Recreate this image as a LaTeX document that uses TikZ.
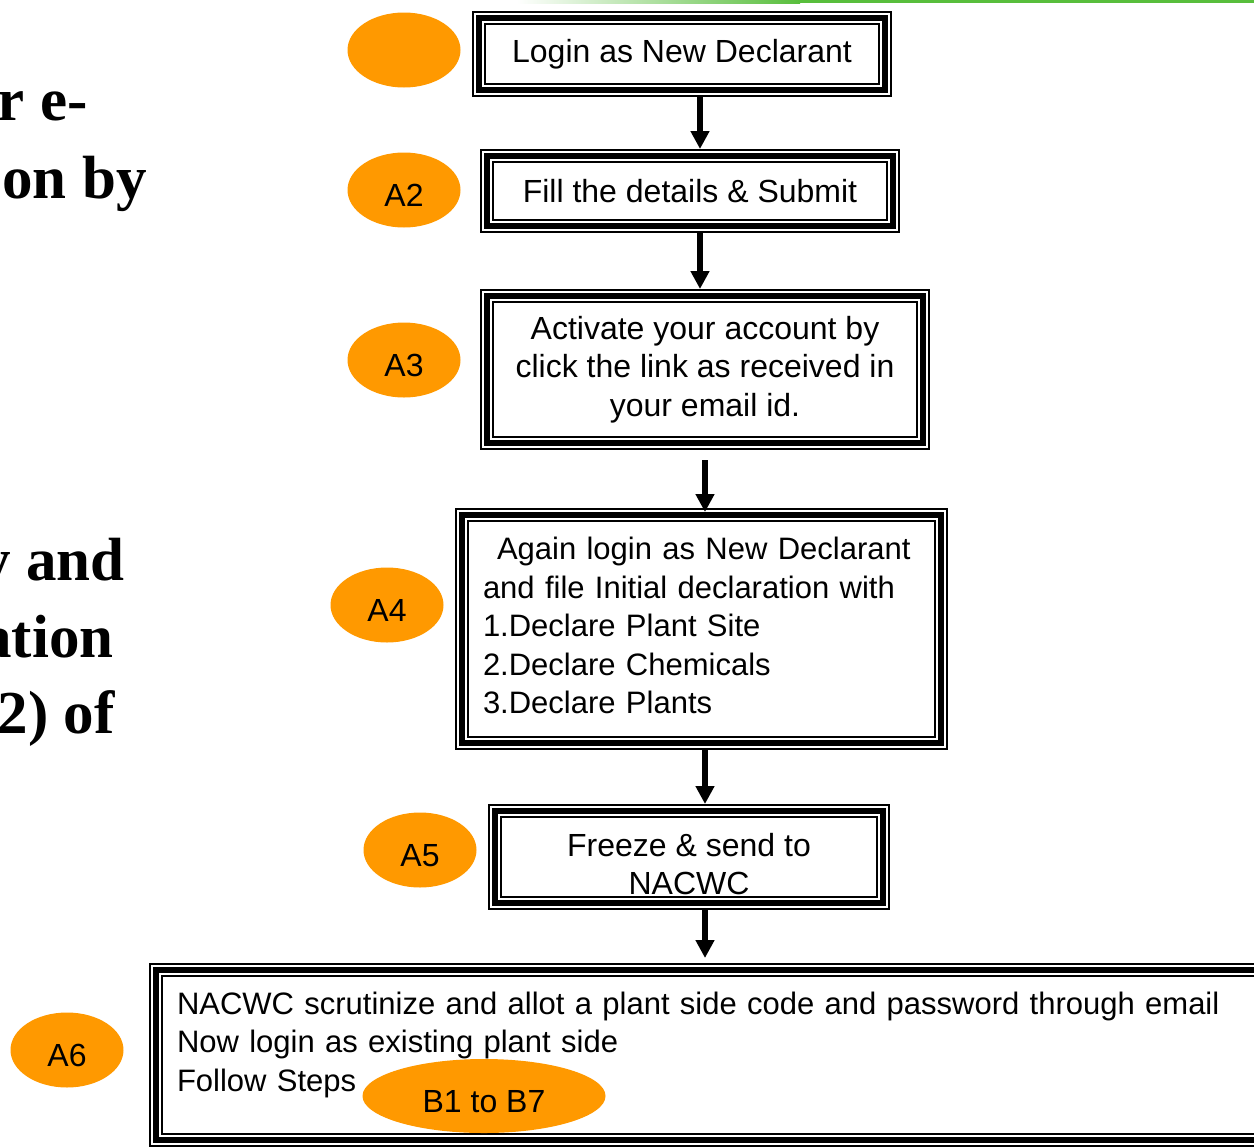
\documentclass[tikz,border=0pt]{standalone}
\usepackage{fontspec}
\setmainfont{Liberation Sans}
\newfontfamily\headfont{Liberation Serif}
\usetikzlibrary{shapes.geometric, arrows.meta}
\definecolor{tagorange}{RGB}{255,153,0}
\definecolor{bargreen}{RGB}{88,190,60}

\begin{document}
\begin{tikzpicture}[x=0.5pt, y=-0.5pt, >={Triangle[width=9pt,length=9pt]},
  stepbox/.style={draw, double, line width=1pt, double distance=5pt,
    postaction={draw, line width=3pt}, fill=white, inner sep=0pt, outer sep=0pt,
    font=\fontsize{16pt}{19.25pt}\selectfont},
  listbox/.style={stepbox, align=left, inner xsep=10.5pt,
    font=\fontsize{15.5pt}{19.25pt}\selectfont},
  tag/.style={ellipse, fill=tagorange, minimum width=56.5pt, minimum height=37.5pt,
    inner sep=0pt, text height=16.5pt, text depth=0pt,
    font=\fontsize{16pt}{19.25pt}\selectfont},
  flow/.style={->, line width=3pt, shorten <=3.5pt, shorten >=3.5pt},
  headtext/.style={anchor=base east, inner sep=0pt,
    font=\headfont\bfseries\fontsize{30.5pt}{38.5pt}\selectfont}]
\useasboundingbox (0,0) rectangle (1254,1147);
\clip (0,0) rectangle (1254,1147);

% green bar at the top
\shade[left color=white, right color=bargreen] (517,0) rectangle (800,3);
\fill[bargreen] (800,0) rectangle (1254,3);

% title, cut at the left edge
\node[headtext] (headA) at (88,120) {r e-};
\node[headtext] (headB) at (147,198) {on by};
\node[headtext] (headC) at (125,580) {y and};
\node[headtext] (headD) at (114,657) {ation};
\node[headtext] (headE) at (115,733) {2) of};

% steps
\node[stepbox, minimum width=203pt, minimum height=36pt] (login) at (682,54) {Login as New Declarant};
\node[stepbox, minimum width=203pt, minimum height=35pt] (details) at (690,191) {Fill the details \& Submit};
\node[stepbox, minimum width=218pt, minimum height=73.5pt, align=center] (activate) at (705,369.5)
  {Activate your account by\\click the link as received in\\your email id.};
\node[listbox, minimum height=114pt, text width=218.5pt] (declare) at (701.5,629)
  {\hspace*{7pt}Again login as New Declarant\\and file Initial declaration with\\1.Declare Plant Site\\2.Declare Chemicals\\3.Declare Plants\rule[-3.5pt]{0pt}{0pt}};
\node[stepbox, minimum width=194pt, minimum height=46pt, align=center] (freeze) at (689,857)
  {\rule{0pt}{18.5pt}Freeze \& send to\\NACWC};
\node[listbox, minimum height=85pt, text width=533.5pt] (scrutiny) at (710.5,1055)
  {NACWC scrutinize and allot a plant side code and password through email\\Now login as existing plant side\\Follow Steps\rule[-13.3pt]{0pt}{0pt}};

% tags
\node[tag] (tagA) at (404,50) {};
\node[tag] (tagB) at (404,190) {A2};
\node[tag] (tagC) at (404,360) {A3};
\node[tag] (tagD) at (387,605) {A4};
\node[tag] (tagE) at (420,850) {A5};
\node[tag] (tagF) at (67,1050) {A6};
\node[tag, minimum width=121.5pt, minimum height=37pt] (tagG) at (484,1096) {B1 to B7};

% arrows
\coordinate (colA) at (700,0);
\coordinate (colB) at (705,0);
\draw[flow] (login.south -| colA) -- (details.north -| colA);
\draw[flow] (details.south -| colA) -- (activate.north -| colA);
\draw[flow, shorten <=8.5pt, shorten >=1.5pt] (activate.south -| colB) -- (declare.north -| colB);
\draw[flow] (declare.south -| colB) -- (freeze.north -| colB);
\draw[flow, shorten >=6pt] (freeze.south -| colB) -- (scrutiny.north -| colB);

\end{tikzpicture}
\end{document}
